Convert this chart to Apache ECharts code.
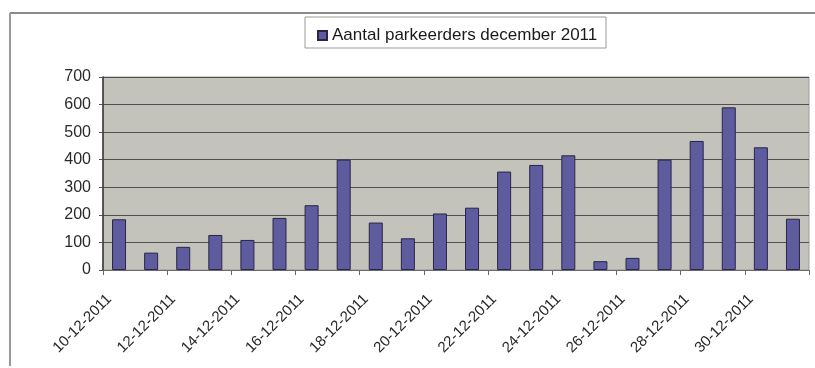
<!DOCTYPE html>
<html>
<head>
<meta charset="utf-8">
<script src="https://cdn.jsdelivr.net/npm/echarts@6/dist/echarts.min.js"></script>
<style>
  html, body { margin: 0; padding: 0; background: #ffffff; }
  #chart { width: 815px; height: 368px; }
</style>
</head>
<body>
<div id="chart"></div>
<script>
// Parking visitors per day, December 2011
const dates = [
  '10-12-2011', '11-12-2011', '12-12-2011', '13-12-2011', '14-12-2011', '15-12-2011',
  '16-12-2011', '17-12-2011', '18-12-2011', '19-12-2011', '20-12-2011', '21-12-2011',
  '22-12-2011', '23-12-2011', '24-12-2011', '25-12-2011', '26-12-2011', '27-12-2011',
  '28-12-2011', '29-12-2011', '30-12-2011', '31-12-2011'
];
const parkeerders = [
  184, 63, 84, 127, 109, 189, 235, 400, 172, 115, 205, 226,
  357, 381, 416, 32, 44, 400, 468, 590, 445, 186
];
const seriesName = 'Aantal parkeerders december 2011';
const yTicks = [0, 100, 200, 300, 400, 500, 600, 700];

const chart = echarts.init(document.getElementById('chart'), null, { renderer: 'canvas' });

chart.setOption({
  animation: false,
  backgroundColor: '#ffffff',
  textStyle: { fontFamily: '"Liberation Sans", Arial, sans-serif' },
  graphic: [
    // outer chart frame
    { type: 'line', shape: { x1: 10, y1: 13, x2: 815, y2: 13 },
      style: { stroke: '#8a8a8a', lineWidth: 2 }, z: 0 },
    { type: 'line', shape: { x1: 10, y1: 13, x2: 10, y2: 366 },
      style: { stroke: '#9a9a9a', lineWidth: 2 }, z: 0 },
    // legend frame
    { type: 'rect', shape: { x: 305, y: 17, width: 301, height: 31 },
      style: { fill: '#ffffff', stroke: '#9a9a9a', lineWidth: 1 }, z: 1 }
  ],
  legend: {
    data: [seriesName],
    left: 312,
    top: 22,
    itemWidth: 9,
    itemHeight: 9,
    itemGap: 6,
    icon: 'rect',
    textStyle: { fontSize: 17, color: '#1a1a1a' },
    z: 5
  },
  grid: {
    left: 103,
    right: 6,
    top: 77,
    bottom: 98,
    show: true,
    backgroundColor: '#c3c3bb',
    borderColor: '#9c9c98',
    borderWidth: 1
  },
  xAxis: {
    type: 'category',
    data: dates,
    boundaryGap: true,
    axisLine: { show: true, lineStyle: { color: '#6a6a6a', width: 1 } },
    axisTick: { show: true, interval: 1, alignWithLabel: false, length: 5, lineStyle: { color: '#6a6a6a' } },
    axisLabel: {
      interval: 1,
      rotate: 45,
      fontSize: 15,
      color: '#2a2a2a',
      margin: 17,
      padding: [0, 14, 13, 0]
    },
    splitLine: { show: false }
  },
  yAxis: {
    type: 'value',
    min: yTicks[0],
    max: yTicks[yTicks.length - 1],
    interval: 100,
    axisLine: { show: true, lineStyle: { color: '#333333', width: 1.5 } },
    axisTick: { show: true, length: 4, lineStyle: { color: '#555555' } },
    axisLabel: { fontSize: 16, color: '#2a2a2a', margin: 12 },
    splitLine: { show: true, lineStyle: { color: '#505050', width: 1 } }
  },
  series: [{
    name: seriesName,
    type: 'bar',
    data: parkeerders,
    barWidth: 14,
    itemStyle: {
      color: '#5e5b9e',
      borderColor: '#26264a',
      borderWidth: 1
    }
  }]
});
</script>
</body>
</html>
